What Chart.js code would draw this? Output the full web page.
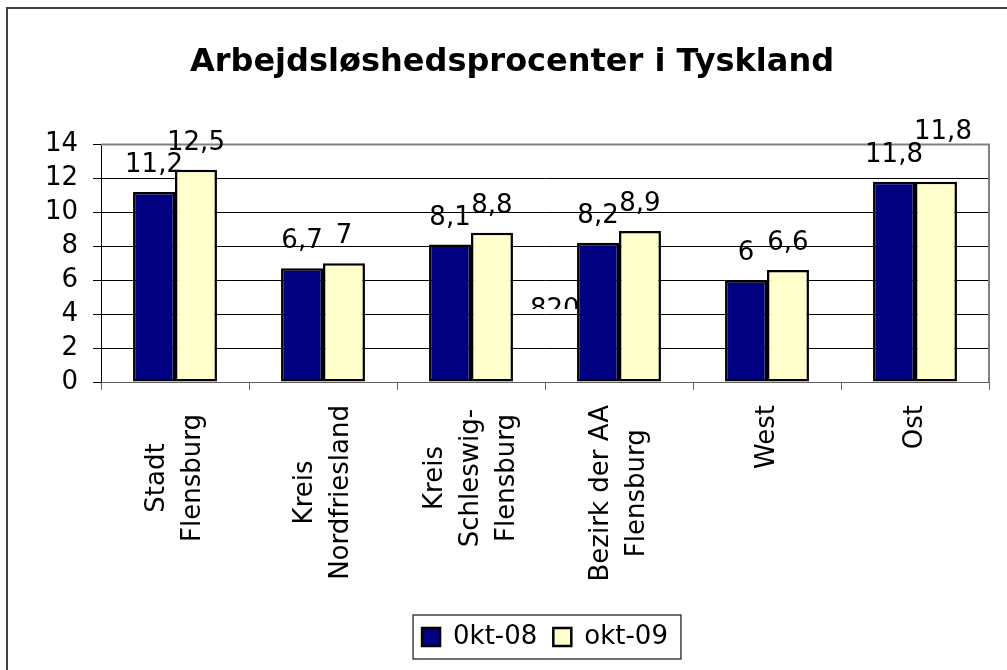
<!DOCTYPE html>
<html lang="da">
<head>
<meta charset="UTF-8">
<title>Arbejdsløshedsprocenter i Tyskland</title>
<script src="https://cdn.jsdelivr.net/npm/chart.js"></script>
<style>
  body { margin: 0; background: #fff; }
  #wrap { width: 1007px; height: 670px; }
</style>
</head>
<body>
<div id="wrap"><canvas id="chart" width="1007" height="670"></canvas></div>
<script>
// data
const categories = [
  ['Stadt', 'Flensburg'],
  ['Kreis', 'Nordfriesland'],
  ['Kreis', 'Schleswig-', 'Flensburg'],
  ['Bezirk der AA', 'Flensburg'],
  ['West'],
  ['Ost']
];
const seriesNames = ['0kt-08', 'okt-09'];
const okt08 = [11.2, 6.7, 8.1, 8.2, 6, 11.8];
const okt09 = [12.5, 7, 8.8, 8.9, 6.6, 11.8];
const yMin = 0, yMax = 14, yStep = 2;

const FONT = "'DejaVu Sans', Verdana, sans-serif";
const fmt = v => String(v).replace('.', ',');

// excel leftovers: one raised value label, a stray clipped "820"
const labelNudge = { '1-5': [7, -23] };

const excelLook = {
  id: 'excelLook',
  beforeDraw(chart) {
    const ctx = chart.ctx;
    ctx.save();
    ctx.fillStyle = '#fff';
    ctx.fillRect(0, 0, chart.width, chart.height);
    ctx.strokeStyle = '#404040';
    ctx.lineWidth = 2;
    ctx.strokeRect(7, 8, chart.width + 20, chart.height + 20);
    ctx.restore();
  },
  afterLayout(chart) {
    // legend is centred under the plot area, not the whole canvas
    const lg = chart.legend, ca = chart.chartArea;
    const d = (ca.left + ca.right) / 2 - (lg.left + lg.right) / 2;
    lg.left += d;
    lg.right += d;
  },
  beforeDatasetsDraw(chart) {
    const ctx = chart.ctx, x = chart.scales.x, y = chart.scales.y, ca = chart.chartArea;
    ctx.save();
    // plot area border (top / right) in grey
    ctx.strokeStyle = '#808080';
    ctx.lineWidth = 2;
    ctx.beginPath();
    ctx.moveTo(ca.left, ca.top);
    ctx.lineTo(ca.right, ca.top);
    ctx.lineTo(ca.right, ca.bottom);
    ctx.stroke();
    // stray label, half hidden
    const bx = (x.getPixelForValue(2) + x.getPixelForValue(3)) / 2;
    ctx.beginPath();
    ctx.rect(bx - 30, y.getPixelForValue(6), 100, y.getPixelForValue(4.3) - y.getPixelForValue(6));
    ctx.clip();
    ctx.fillStyle = '#000';
    ctx.font = '26px ' + FONT;
    ctx.textAlign = 'left';
    ctx.textBaseline = 'alphabetic';
    ctx.fillText('820', bx - 15, y.getPixelForValue(3.85));
    ctx.restore();
  },
  afterDatasetsDraw(chart) {
    const ctx = chart.ctx;
    ctx.save();
    ctx.fillStyle = '#000';
    ctx.font = '26px ' + FONT;
    ctx.textAlign = 'center';
    ctx.textBaseline = 'alphabetic';
    chart.data.datasets.forEach((ds, di) => {
      chart.getDatasetMeta(di).data.forEach((el, i) => {
        const n = labelNudge[di + '-' + i] || [0, 0];
        ctx.fillText(fmt(ds.data[i]), el.x + n[0], el.y - 20 + n[1]);
      });
    });
    ctx.restore();
  },
  afterDraw(chart) {
    const ctx = chart.ctx, x = chart.scales.x;
    ctx.save();
    // category labels: rotated, wrapped lines centred in their block
    ctx.fillStyle = '#000';
    ctx.font = '26px ' + FONT;
    ctx.textAlign = 'center';
    ctx.textBaseline = 'middle';
    const lineGap = 36;
    categories.forEach((lines, i) => {
      const cx = x.getPixelForValue(i);
      let w = Math.max(...lines.map(l => ctx.measureText(l).width));
      if (lines.length > 1) w = Math.max(w, 146);
      const cy = x.top + 23 + w / 2;
      lines.forEach((l, j) => {
        ctx.save();
        ctx.translate(cx + (j - (lines.length - 1) / 2) * lineGap, cy);
        ctx.rotate(-Math.PI / 2);
        ctx.fillText(l, 0, 0);
        ctx.restore();
      });
    });
    // legend frame
    const hb = chart.legend.legendHitBoxes;
    if (hb && hb.length) {
      const first = hb[0], last = hb[hb.length - 1];
      ctx.strokeStyle = '#404040';
      ctx.lineWidth = 1.5;
      ctx.strokeRect(first.left - 9, first.top - 9,
        last.left + last.width + 13 - (first.left - 9), first.height + 18);
    }
    ctx.restore();
  }
};

new Chart(document.getElementById('chart'), {
  type: 'bar',
  data: {
    labels: categories,
    datasets: [
      { label: seriesNames[0], data: okt08, backgroundColor: '#000080', borderColor: '#000', borderWidth: 2.5, borderSkipped: false },
      { label: seriesNames[1], data: okt09, backgroundColor: '#FFFFCC', borderColor: '#000', borderWidth: 2.5, borderSkipped: false }
    ]
  },
  options: {
    responsive: false,
    animation: false,
    events: [],
    categoryPercentage: 0.567,
    barPercentage: 1,
    layout: { padding: { left: 35, right: 18, top: 20, bottom: 10 } },
    plugins: {
      title: {
        display: true,
        text: 'Arbejdsløshedsprocenter i Tyskland',
        color: '#000',
        font: { family: FONT, size: 32, weight: 'bold' },
        padding: { top: 23, bottom: 63 }
      },
      legend: {
        position: 'bottom',
        labels: {
          color: '#000',
          font: { family: FONT, size: 26 },
          boxWidth: 18,
          boxHeight: 18,
          padding: 16
        }
      },
      tooltip: { enabled: false }
    },
    scales: {
      x: {
        grid: { drawOnChartArea: false, offset: true, tickLength: 8, color: '#606060' },
        border: { color: '#606060', width: 1 },
        ticks: { display: false },
        afterFit: s => { s.height = 226; }
      },
      y: {
        min: yMin,
        max: yMax,
        ticks: { stepSize: yStep, autoSkip: false, color: '#000', padding: 15, font: { family: FONT, size: 26 } },
        grid: { color: '#000', tickLength: 8 },
        border: { color: '#000', width: 1 },
        afterFit: s => { s.width = 66; }
      }
    }
  },
  plugins: [excelLook]
});
</script>
</body>
</html>
